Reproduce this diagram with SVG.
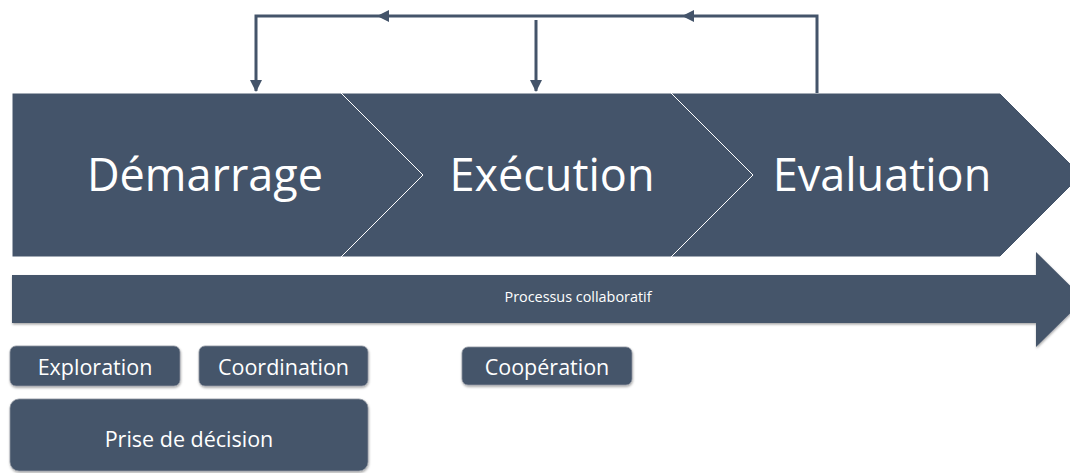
<svg xmlns="http://www.w3.org/2000/svg" width="1070" height="473" viewBox="0 0 1070 473">
  <style>
    .shape { fill: #44546A; stroke: #ffffff; stroke-width: 1; }
    .box { fill: #44546A; stroke: #8f969f; stroke-width: 0.8; }
    .big { font-family: "Open Sans", "Liberation Sans", sans-serif; font-size: 45px; fill: #ffffff; text-anchor: middle; }
    .lbl { font-family: "Open Sans", "Liberation Sans", sans-serif; font-size: 21.5px; fill: #ffffff; text-anchor: middle; }
    .small { font-family: "Open Sans", "Liberation Sans", sans-serif; font-size: 14.4px; fill: #ffffff; text-anchor: middle; }
    .conn { fill: none; stroke: #44546A; stroke-width: 3; }
  </style>
  <defs>
    <marker id="arrow" viewBox="0 0 12 12" refX="11" refY="6" markerWidth="12" markerHeight="12" markerUnits="userSpaceOnUse" orient="auto">
      <path d="M0,0 L12,6 L0,12 Z" fill="#44546A"/>
    </marker>
    <filter id="shadow" x="-5%" y="-10%" width="110%" height="130%">
      <feDropShadow dx="0.5" dy="1.5" stdDeviation="1" flood-color="#000000" flood-opacity="0.35"/>
    </filter>
  </defs>
  <rect width="1070" height="473" fill="#ffffff"/>

  <g id="demarrage">
    <path class="shape" d="M12,93 H341 L423,175 L341,257 H12 Z"/>
    <text class="big" x="205" y="191">Démarrage</text>
  </g>
  <g id="execution">
    <path class="shape" d="M341,93 H671 L753,175 L671,257 H341 L423,175 Z"/>
    <text class="big" x="552" y="191">Exécution</text>
  </g>
  <g id="evaluation">
    <path class="shape" d="M671,93 H1000 L1082,175 L1000,257 H671 L753,175 Z"/>
    <text class="big" x="882" y="191">Evaluation</text>
  </g>

  <g id="processus">
    <path d="M12,275 H1036 V252 L1084,299.5 L1036,347 V323 H12 Z" fill="#44546A" filter="url(#shadow)"/>
    <text class="small" x="578" y="302">Processus collaboratif</text>
  </g>

  <g id="exploration">
    <rect class="box" x="10" y="346" width="170" height="40" rx="6" filter="url(#shadow)"/>
    <text class="lbl" x="95" y="375">Exploration</text>
  </g>
  <g id="coordination">
    <rect class="box" x="199" y="346" width="169" height="40" rx="6" filter="url(#shadow)"/>
    <text class="lbl" x="283.5" y="375">Coordination</text>
  </g>
  <g id="cooperation">
    <rect class="box" x="462" y="347" width="170" height="38" rx="6" filter="url(#shadow)"/>
    <text class="lbl" x="547" y="375">Coopération</text>
  </g>
  <g id="prise-de-decision">
    <rect class="box" x="10" y="399" width="358" height="72" rx="9" filter="url(#shadow)"/>
    <text class="lbl" x="189" y="447">Prise de décision</text>
  </g>

  <g id="connectors">
    <path class="conn" d="M817,93 V16 H683" marker-end="url(#arrow)"/>
    <path class="conn" d="M683,16 H378" marker-end="url(#arrow)"/>
    <path class="conn" d="M378,16 H256 V91" marker-end="url(#arrow)"/>
    <path class="conn" d="M536,20 V91" marker-end="url(#arrow)"/>
  </g>
</svg>
